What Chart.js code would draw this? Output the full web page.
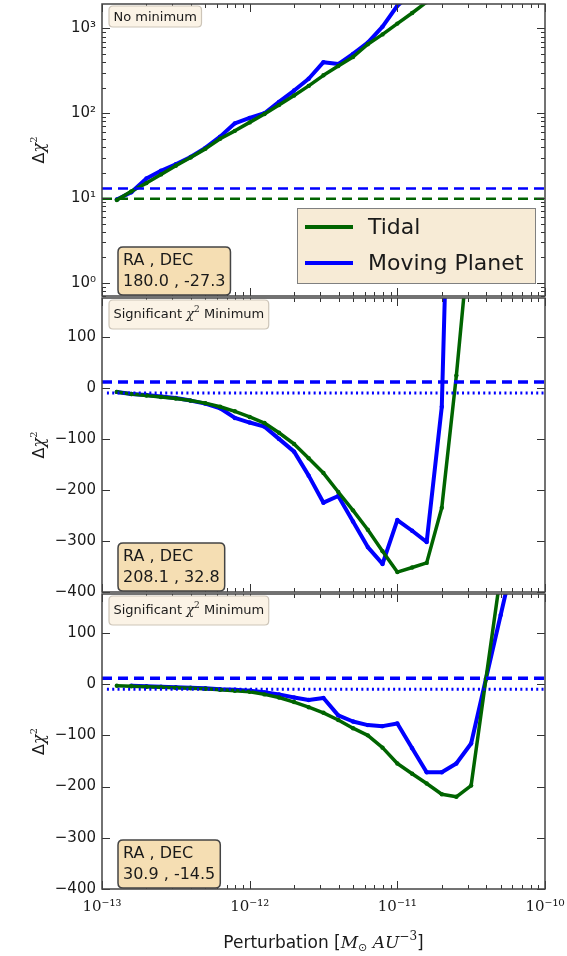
<!DOCTYPE html>
<html><head><meta charset="utf-8">
<script src="https://cdn.jsdelivr.net/npm/chart.js@4/dist/chart.umd.min.js"></script>
<style>
html,body{margin:0;padding:0;background:#fff;width:567px;height:956px;overflow:hidden;}
canvas{position:absolute;left:0;}
</style></head><body>
<canvas id="c1" width="567" height="310" style="top:0px"></canvas>
<canvas id="c2" width="567" height="320" style="top:290px"></canvas>
<canvas id="c3" width="567" height="370" style="top:586px"></canvas>
<script>
// ---------- data ----------
const xValues = [1.26e-13,1.58e-13,2.0e-13,2.51e-13,3.16e-13,3.98e-13,5.01e-13,6.31e-13,7.94e-13,1.0e-12,
                 1.26e-12,1.58e-12,2.0e-12,2.51e-12,3.16e-12,3.98e-12,5.01e-12,6.31e-12,7.94e-12,1.0e-11,
                 1.26e-11,1.58e-11,2.0e-11,2.51e-11,3.16e-11,3.98e-11,5.01e-11,6.31e-11];

const tidal1  = [9.5,12,15,19,24,30,38,50,62,78,98,125,162,210,280,360,460,650,850,1140,1520,2050,2700];
const planet1 = [9.6,11.7,17,21,25,30.5,39,53,76,88,100,136,185,255,400,380,500,680,1050,1850,2600];

const tidal2  = [-8,-12,-15,-18,-21,-25,-30,-37,-46,-57,-69,-88,-110,-138,-167,-204,-240,-278,-320,-361,-352,-343,-235,24,330];
const planet2 = [-8,-12,-14,-17,-20,-25,-31,-40,-59,-68,-76,-100,-125,-172,-225,-212,-262,-312,-345,-259,-280,-302,-37,1000];

const tidal3  = [-3,-4,-5,-6,-7,-8,-9,-11,-13,-15,-20,-26,-35,-45,-56,-70,-86,-100,-124,-155,-175,-194,-215,-220,-198,10,215];
const planet3 = [null,-3,-4,-5,-6,-7,-8,-10,-11,-13,-16,-20,-26,-31,-27,-61,-73,-80,-82,-77,-125,-172,-172,-155,-116,10,135,260];

const thresholdsLog = [9.8, 13];      // tidal dashed, planet dashed (panel 1)
const thresholdsLin = [11.3, -10];    // dashed, dotted (panels 2,3)

const seriesNames = ['Tidal','Moving Planet'];
const headers = ['No minimum','Significant','Significant'];
const locations = [['180.0','-27.3'],['208.1','32.8'],['30.9','-14.5']];

const xTicks  = [1e-13,1e-12,1e-11,1e-10];
const xLabels = ['10\u207B\u00B9\u00B3','10\u207B\u00B9\u00B2','10\u207B\u00B9\u00B9','10\u207B\u00B9\u2070'];
const yTicksLog  = [1,10,100,1000];
const yLabelsLog = ['10\u2070','10\u00B9','10\u00B2','10\u00B3'];
const yTicksLin  = [-400,-300,-200,-100,0,100];
const yLabelsLin = ['\u2212400','\u2212300','\u2212200','\u2212100','0','100'];

// ---------- helpers ----------
const GREEN = '#006400', BLUE = '#0000ff';
function pts(series){ return series.map((v,i)=> v==null?null:{x:xValues[i], y:v}).filter(Boolean); }
function hline(v,x0,x1){ return [{x:x0,y:v},{x:x1,y:v}]; }

function richWidth(ctx, parts){ let w=0; parts.forEach(p=>{ctx.font=p.font; w+=ctx.measureText(p.t).width;}); return w; }
function drawRich(ctx, parts, x, y){ parts.forEach(p=>{ctx.font=p.font; ctx.fillText(p.t, x, y+(p.dy||0)); x+=ctx.measureText(p.t).width;}); }
function rrect(ctx,x,y,w,h,r){ ctx.beginPath(); ctx.moveTo(x+r,y); ctx.lineTo(x+w-r,y); ctx.quadraticCurveTo(x+w,y,x+w,y+r);
  ctx.lineTo(x+w,y+h-r); ctx.quadraticCurveTo(x+w,y+h,x+w-r,y+h); ctx.lineTo(x+r,y+h); ctx.quadraticCurveTo(x,y+h,x,y+h-r);
  ctx.lineTo(x,y+r); ctx.quadraticCurveTo(x,y,x+r,y); ctx.closePath(); }

const framePlugin = {
  id:'frame',
  afterDraw(chart, args, o){
    const ctx = chart.ctx; const {left,right,top,bottom} = chart.chartArea;
    const xs = chart.scales.x, ys = chart.scales.y;
    ctx.save();
    const seg=(x1,y1,x2,y2)=>{ctx.beginPath();ctx.moveTo(x1,y1);ctx.lineTo(x2,y2);ctx.stroke();};
    ctx.strokeStyle='#333'; ctx.lineWidth=1;
    xTicks.forEach(v=>{const p=Math.round(xs.getPixelForValue(v))+0.5; seg(p,top,p,top+8); seg(p,bottom,p,bottom-8);});
    [1e-13,1e-12,1e-11].forEach(d=>{ for(let m=2;m<=9;m++){const p=Math.round(xs.getPixelForValue(m*d))+0.5; seg(p,top,p,top+4); seg(p,bottom,p,bottom-4);} });
    o.yTicks.forEach(v=>{const p=Math.round(ys.getPixelForValue(v))+0.5; seg(left,p,left+8,p); seg(right,p,right-8,p);});
    if(o.logMinor){
      [0.1,1,10,100,1000].forEach(d=>{ for(let m=2;m<=9;m++){ const v=m*d; if(v<ys.min||v>ys.max) continue;
        const p=Math.round(ys.getPixelForValue(v))+0.5; seg(left,p,left+4,p); seg(right,p,right-4,p);} });
    }
    ctx.strokeStyle='#444'; ctx.lineWidth=1.5; ctx.strokeRect(left,top,right-left,bottom-top);

    // header box
    ctx.fillStyle='#1a1a1a'; ctx.textBaseline='alphabetic'; ctx.textAlign='left';
    const hp = o.sig ? [{t:'Significant ',font:'13px DejaVu Sans'},{t:'\u03C7',font:'italic 13px DejaVu Serif'},{t:'2',font:'9px DejaVu Serif',dy:-6},{t:' Minimum',font:'13px DejaVu Sans'}]
                     : [{t:o.header,font:'13px DejaVu Sans'}];
    const hw = richWidth(ctx,hp)+9, hh = o.sig?29:21, hx=left+7, hy=top+2;
    rrect(ctx,hx,hy,hw,hh,4); ctx.fillStyle='#fbf3e6'; ctx.fill(); ctx.strokeStyle='#cdc5b8'; ctx.lineWidth=1.2; ctx.stroke();
    ctx.fillStyle='#1a1a1a'; drawRich(ctx,hp,hx+4.5,hy+(o.sig?17.5:15));

    // location box
    ctx.font='16px DejaVu Sans';
    const l1='RA , DEC', l2=o.loc[0]+' , '+o.loc[1];
    const bw=Math.max(ctx.measureText(l1).width,ctx.measureText(l2).width)+10, bh=48, bx=left+16, by=bottom-1-bh;
    rrect(ctx,bx,by,bw,bh,5); ctx.fillStyle='#f5deb3'; ctx.fill(); ctx.strokeStyle='#444'; ctx.lineWidth=1.5; ctx.stroke();
    ctx.fillStyle='#1a1a1a'; ctx.fillText(l1,bx+5,by+18); ctx.fillText(l2,bx+5,by+39);

    // legend
    if(o.legend){
      const lw=238, lh=75, lx=right-10-lw, ly=bottom-13-lh;
      ctx.fillStyle='#f7ebd6'; ctx.fillRect(lx,ly,lw,lh); ctx.strokeStyle='#808080'; ctx.lineWidth=1; ctx.strokeRect(lx+0.5,ly+0.5,lw,lh);
      [[GREEN,seriesNames[0],19],[BLUE,seriesNames[1],55]].forEach(([c,t,dy])=>{
        ctx.strokeStyle=c; ctx.lineWidth=4; seg(lx+8,ly+dy,lx+56,ly+dy);
        ctx.fillStyle='#1a1a1a'; ctx.font='22px DejaVu Sans'; ctx.textBaseline='middle'; ctx.fillText(t,lx+71,ly+dy+1);
      });
      ctx.textBaseline='alphabetic';
    }

    // y title
    ctx.save(); ctx.translate(44,(top+bottom)/2); ctx.rotate(-Math.PI/2);
    const yp=[{t:'\u0394',font:'16px DejaVu Sans'},{t:'\u03C7',font:'italic 16px DejaVu Serif'},{t:'2',font:'10px DejaVu Serif',dy:-7}];
    ctx.fillStyle='#1a1a1a'; drawRich(ctx,yp,-richWidth(ctx,yp)/2,0); ctx.restore();

    // x title
    if(o.xTitle){
      const xp=[{t:'Perturbation [',font:'17px DejaVu Sans'},{t:'M',font:'italic 17px DejaVu Serif'},{t:'\u2299',font:'11px DejaVu Sans',dy:3},
                {t:' AU',font:'italic 17px DejaVu Serif'},{t:'\u22123',font:'12px DejaVu Serif',dy:-8},{t:']',font:'17px DejaVu Sans'}];
      ctx.fillStyle='#1a1a1a'; drawRich(ctx,xp,(left+right)/2-richWidth(ctx,xp)/2,bottom+59);
    }
    ctx.restore();
  }
};

function lineDS(series,color,w){ return {data:pts(series),borderColor:color,backgroundColor:color,borderWidth:w,pointRadius:2.2,
  pointBorderWidth:0,pointBackgroundColor:color,tension:0,clip:0,borderJoinStyle:'round',fill:false}; }
function refDS(v,color,w,dash,x0){ return {data:hline(v,x0||1e-13,1e-10),borderColor:color,borderWidth:w,borderDash:dash,pointRadius:0,clip:0,fill:false}; }
function noPad(s){ s.paddingTop=0; s.paddingBottom=0; s.paddingLeft=0; s.paddingRight=0; }

function makeChart(id,cfg){
  return new Chart(document.getElementById(id),{
    type:'line',
    data:{datasets:cfg.datasets},
    options:{
      responsive:false, animation:false, events:[],
      layout:{padding:{left:0,right:22,top:cfg.padTop,bottom:cfg.padBottom}},
      plugins:{legend:{display:false},tooltip:{enabled:false},frame:cfg.frame},
      scales:{
        x:{type:'logarithmic',min:1e-13,max:1e-10,display:cfg.showX,
           grid:{display:false,drawTicks:false},border:{display:false},
           afterBuildTicks:s=>{s.ticks=xTicks.map(v=>({value:v}));},
           afterFit:s=>{ if(cfg.showX) s.height=30; noPad(s); },
           ticks:{callback:(v,i)=>xLabels[i],font:{family:'DejaVu Serif',size:15},color:'#1a1a1a',padding:9,maxRotation:0,autoSkip:false}},
        y:{type:cfg.yType,min:cfg.yMin,max:cfg.yMax,
           grid:{display:false,drawTicks:false},border:{display:false},
           afterBuildTicks:s=>{s.ticks=cfg.yTicks.map(v=>({value:v}));},
           afterFit:s=>{s.width=102; noPad(s);},
           ticks:{callback:(v,i)=>cfg.yLabels[i],font:{family:'DejaVu Sans',size:15},color:'#1a1a1a',padding:6,autoSkip:false}}
      }
    },
    plugins:[framePlugin]
  });
}

makeChart('c1',{padTop:1,padBottom:14,showX:false,yType:'logarithmic',yMin:0.7,yMax:1940,yTicks:yTicksLog,yLabels:yLabelsLog,
  datasets:[refDS(thresholdsLog[0],GREEN,2.5,[10,6]),refDS(thresholdsLog[1],BLUE,2.5,[10,6]),lineDS(tidal1,GREEN,3.5),lineDS(planet1,BLUE,4)],
  frame:{yTicks:yTicksLog,logMinor:true,header:headers[0],sig:false,loc:locations[0],legend:true}});

makeChart('c2',{padTop:8,padBottom:18,showX:false,yType:'linear',yMin:-400,yMax:176,yTicks:yTicksLin,yLabels:yLabelsLin,
  datasets:[refDS(thresholdsLin[0],BLUE,3.5,[10,6]),refDS(thresholdsLin[1],BLUE,3,[2,3.3],1.08e-13),lineDS(tidal2,GREEN,3.5),lineDS(planet2,BLUE,4)],
  frame:{yTicks:yTicksLin,header:headers[1],sig:true,loc:locations[1]}});

makeChart('c3',{padTop:8,padBottom:37,showX:true,yType:'linear',yMin:-400,yMax:176,yTicks:yTicksLin,yLabels:yLabelsLin,
  datasets:[refDS(thresholdsLin[0],BLUE,3.5,[10,6]),refDS(thresholdsLin[1],BLUE,3,[2,3.3],1.08e-13),lineDS(tidal3,GREEN,3.5),lineDS(planet3,BLUE,4)],
  frame:{yTicks:yTicksLin,header:headers[2],sig:true,loc:locations[2],xTitle:true}});
</script>
</body></html>
